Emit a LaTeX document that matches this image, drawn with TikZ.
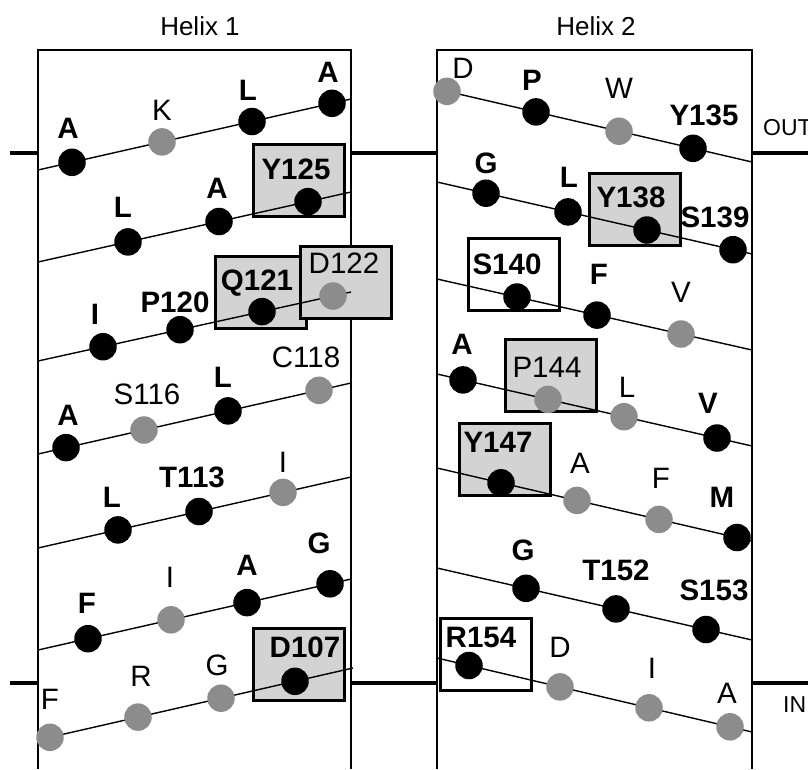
\documentclass[tikz,border=0pt]{standalone}
\usepackage{fontspec}
\setmainfont{Liberation Sans}
\usepackage{xcolor}
\usepackage{tikz}
\pgfdeclarelayer{boxlayer}
\pgfdeclarelayer{edgelayer}
\pgfdeclarelayer{nodelayer}
\pgfsetlayers{boxlayer,edgelayer,nodelayer,main}
\definecolor{resgray}{RGB}{140,140,140}
\definecolor{boxgray}{RGB}{211,211,211}
\tikzstyle{bk}=[inner sep=0pt,minimum size=27.5pt,shape=circle,fill=black]
\tikzstyle{gy}=[bk,fill=resgray]
\tikzstyle{lb}=[inner sep=0pt,font=\fontsize{29.5}{29.5}\selectfont\bfseries]
\tikzstyle{lr}=[inner sep=0pt,font=\fontsize{29.5}{29.5}\selectfont]
\tikzstyle{hl}=[inner sep=0pt,font=\fontsize{26}{26}\selectfont]
\tikzstyle{side}=[inner sep=0pt,anchor=west,font=\fontsize{23}{23}\selectfont]
\tikzstyle{obox}=[draw=black,line width=3pt,fill=white,minimum width=91pt,minimum height=72pt,inner sep=0pt]
\tikzstyle{sbox}=[obox,fill=boxgray]
\tikzstyle{wall}=[line width=2.7pt]
\tikzstyle{memb}=[line width=4pt]
\tikzstyle{turn}=[line width=1.4pt]

\begin{document}
\begin{tikzpicture}[x=1pt,y=-1pt]
	\useasboundingbox (0,0) rectangle (808,769);
	\begin{pgfonlayer}{boxlayer}
		% helix walls and membrane
		\draw[wall] (38,769) -- (38,50) -- (351,50) -- (351,769);
		\draw[wall] (437,769) -- (437,50) -- (752,50) -- (752,769);
		\draw[memb] (10,153) -- (38,153) (351,153) -- (437,153) (752,153) -- (808,153);
		\draw[memb] (10,683) -- (38,683) (351,683) -- (437,683) (752,683) -- (808,683);
		% marked residues
		\node [style=sbox] (bx125) at (298.5,180.5) {};
		\node [style=sbox] (bx121) at (261,292.5) {};
		\node [style=sbox] (bx122) at (345.5,282.5) {};
		\node [style=sbox] (bx107) at (299,664.5) {};
		\node [style=sbox] (bx138) at (634.5,209) {};
		\node [style=obox] (bx140) at (513.5,274) {};
		\node [style=sbox] (bx144) at (550.5,375.5) {};
		\node [style=sbox] (bx147) at (504.5,459.5) {};
		\node [style=obox] (bx154) at (485.5,654.5) {};
	\end{pgfonlayer}
	\begin{pgfonlayer}{nodelayer}
		% helix 1
		\node [style=bk] (l1a) at (72,162.3) {};
		\node [style=gy] (l1b) at (162,141.9) {};
		\node [style=bk] (l1c) at (252,121.5) {};
		\node [style=bk] (l1d) at (332,103.3) {};
		\node [style=bk] (l2a) at (128,241.9) {};
		\node [style=bk] (l2b) at (219,221.5) {};
		\node [style=bk] (l2c) at (308,201.6) {};
		\node [style=bk] (l3a) at (103,346.7) {};
		\node [style=bk] (l3b) at (180,329.7) {};
		\node [style=bk] (l3c) at (262,311.6) {};
		\node [style=gy] (l3d) at (333,296) {};
		\node [style=bk] (l4a) at (66,447.6) {};
		\node [style=gy] (l4b) at (144,430) {};
		\node [style=bk] (l4c) at (228,410.9) {};
		\node [style=gy] (l4d) at (319,390.3) {};
		\node [style=bk] (l5a) at (118,529.9) {};
		\node [style=bk] (l5b) at (199,511.5) {};
		\node [style=gy] (l5c) at (283,492.4) {};
		\node [style=bk] (l6a) at (88,638.7) {};
		\node [style=gy] (l6b) at (171,619.8) {};
		\node [style=bk] (l6c) at (247,602.6) {};
		\node [style=bk] (l6d) at (330,583.8) {};
		\node [style=gy] (l7a) at (50,737.3) {};
		\node [style=gy] (l7b) at (138,717.1) {};
		\node [style=gy] (l7c) at (221,698.2) {};
		\node [style=bk] (l7d) at (295,681.3) {};
		% helix 2
		\node [style=gy] (r1a) at (447,91.3) {};
		\node [style=bk] (r1b) at (536,111.9) {};
		\node [style=gy] (r1c) at (619,131.2) {};
		\node [style=bk] (r1d) at (693,148.3) {};
		\node [style=bk] (r2a) at (486,193.2) {};
		\node [style=bk] (r2b) at (568,211.9) {};
		\node [style=bk] (r2c) at (647,230) {};
		\node [style=bk] (r2d) at (733,249.7) {};
		\node [style=bk] (r3a) at (517,297) {};
		\node [style=bk] (r3b) at (597,315.1) {};
		\node [style=gy] (r3c) at (681,334) {};
		\node [style=bk] (r4a) at (463,379.9) {};
		\node [style=gy] (r4b) at (548,399.4) {};
		\node [style=gy] (r4c) at (624,416.7) {};
		\node [style=bk] (r4d) at (717,438) {};
		\node [style=bk] (r5a) at (501,482.8) {};
		\node [style=gy] (r5b) at (577,500.4) {};
		\node [style=gy] (r5c) at (659,519.4) {};
		\node [style=bk] (r5d) at (737,537.5) {};
		\node [style=bk] (r6a) at (526,588.3) {};
		\node [style=bk] (r6b) at (616,608.9) {};
		\node [style=bk] (r6c) at (706,629.5) {};
		\node [style=bk] (r7a) at (469,665.5) {};
		\node [style=gy] (r7b) at (560,686.9) {};
		\node [style=gy] (r7c) at (649,707.8) {};
		\node [style=gy] (r7d) at (730,726.8) {};
	\end{pgfonlayer}
	\begin{pgfonlayer}{edgelayer}
		\coordinate (l1s) at (38,170);  \coordinate (l1e) at (351,99);
		\coordinate (l2s) at (38,262);  \coordinate (l2e) at (351,192);
		\coordinate (l3s) at (38,361);  \coordinate (l3e) at (351,292);
		\coordinate (l4s) at (38,454);  \coordinate (l4e) at (351,383);
		\coordinate (l5s) at (38,548);  \coordinate (l5e) at (351,477);
		\coordinate (l6s) at (38,650);  \coordinate (l6e) at (351,579);
		\coordinate (l7s) at (38,740);  \coordinate (l7e) at (353,668);
		\coordinate (r1s) at (437,89);  \coordinate (r1e) at (752,162);
		\coordinate (r2s) at (437,182); \coordinate (r2e) at (752,254);
		\coordinate (r3s) at (437,279); \coordinate (r3e) at (752,350);
		\coordinate (r4s) at (437,374); \coordinate (r4e) at (752,446);
		\coordinate (r5s) at (437,468); \coordinate (r5e) at (752,541);
		\coordinate (r6s) at (437,568); \coordinate (r6e) at (752,640);
		\coordinate (r7s) at (437,658); \coordinate (r7e) at (752,732);
		\draw[turn] (l1s) to (l1e);
		\draw[turn] (l2s) to (l2e);
		\draw[turn] (l3s) to (l3e);
		\draw[turn] (l4s) to (l4e);
		\draw[turn] (l5s) to (l5e);
		\draw[turn] (l6s) to (l6e);
		\draw[turn] (l7s) to (l7e);
		\draw[turn] (r1s) to (r1e);
		\draw[turn] (r2s) to (r2e);
		\draw[turn] (r3s) to (r3e);
		\draw[turn] (r4s) to (r4e);
		\draw[turn] (r5s) to (r5e);
		\draw[turn] (r6s) to (r6e);
		\draw[turn] (r7s) to (r7e);
	\end{pgfonlayer}
	% titles
	\node [style=hl] (h1) at (200,26) {Helix 1};
	\node [style=hl] (h2) at (596,26) {Helix 2};
	\node [style=side] (out) at (763,128) {OUT};
	\node [style=side] (in) at (783,705) {IN};
	% helix 1 labels
	\node [style=lb] (l1a-t) at (68,128) {A};
	\node [style=lr] (l1b-t) at (162,110) {K};
	\node [style=lb] (l1c-t) at (248,90) {L};
	\node [style=lb] (l1d-t) at (328,72) {A};
	\node [style=lb] (l2a-t) at (123,207) {L};
	\node [style=lb] (l2b-t) at (217,188) {A};
	\node [style=lb] (l2c-t) at (296,169) {Y125};
	\node [style=lb] (l3a-t) at (95,314) {I};
	\node [style=lb] (l3b-t) at (175,302) {P120};
	\node [style=lb] (l3c-t) at (257,283) {Q121};
	\node [style=lr] (l3d-t) at (344,263) {D122};
	\node [style=lb] (l4a-t) at (68,415) {A};
	\node [style=lr] (l4b-t) at (147,394) {S116};
	\node [style=lb] (l4c-t) at (223,377) {L};
	\node [style=lr] (l4d-t) at (306,357) {C118};
	\node [style=lb] (l5a-t) at (112,497) {L};
	\node [style=lb] (l5b-t) at (192,477) {T113};
	\node [style=lr] (l5c-t) at (283,462) {I};
	\node [style=lb] (l6a-t) at (87,603) {F};
	\node [style=lr] (l6b-t) at (170,577) {I};
	\node [style=lb] (l6c-t) at (247,565) {A};
	\node [style=lb] (l6d-t) at (319,543) {G};
	\node [style=lr] (l7a-t) at (50,699) {F};
	\node [style=lr] (l7b-t) at (141,676) {R};
	\node [style=lr] (l7c-t) at (217,665) {G};
	\node [style=lb] (l7d-t) at (305,647) {D107};
	% helix 2 labels
	\node [style=lr] (r1a-t) at (463,68) {D};
	\node [style=lb] (r1b-t) at (532,80) {P};
	\node [style=lr] (r1c-t) at (619,88) {W};
	\node [style=lb] (r1d-t) at (704,115) {Y135};
	\node [style=lb] (r2a-t) at (486,163) {G};
	\node [style=lb] (r2b-t) at (569,177) {L};
	\node [style=lb] (r2c-t) at (631,197) {Y138};
	\node [style=lb] (r2d-t) at (715,217) {S139};
	\node [style=lb] (r3a-t) at (507,264) {S140};
	\node [style=lb] (r3b-t) at (599,274) {F};
	\node [style=lr] (r3c-t) at (681,292) {V};
	\node [style=lb] (r4a-t) at (462,344) {A};
	\node [style=lr] (r4b-t) at (547,367) {P144};
	\node [style=lr] (r4c-t) at (627,387) {L};
	\node [style=lb] (r4d-t) at (708,403) {V};
	\node [style=lb] (r5a-t) at (498,442) {Y147};
	\node [style=lr] (r5b-t) at (580,463) {A};
	\node [style=lr] (r5c-t) at (661,478) {F};
	\node [style=lb] (r5d-t) at (722,497) {M};
	\node [style=lb] (r6a-t) at (523,550) {G};
	\node [style=lb] (r6b-t) at (616,570) {T152};
	\node [style=lb] (r6c-t) at (714,590) {S153};
	\node [style=lb] (r7a-t) at (481,637) {R154};
	\node [style=lr] (r7b-t) at (560,647) {D};
	\node [style=lr] (r7c-t) at (652,668) {I};
	\node [style=lr] (r7d-t) at (727,693) {A};
\end{tikzpicture}
\end{document}
